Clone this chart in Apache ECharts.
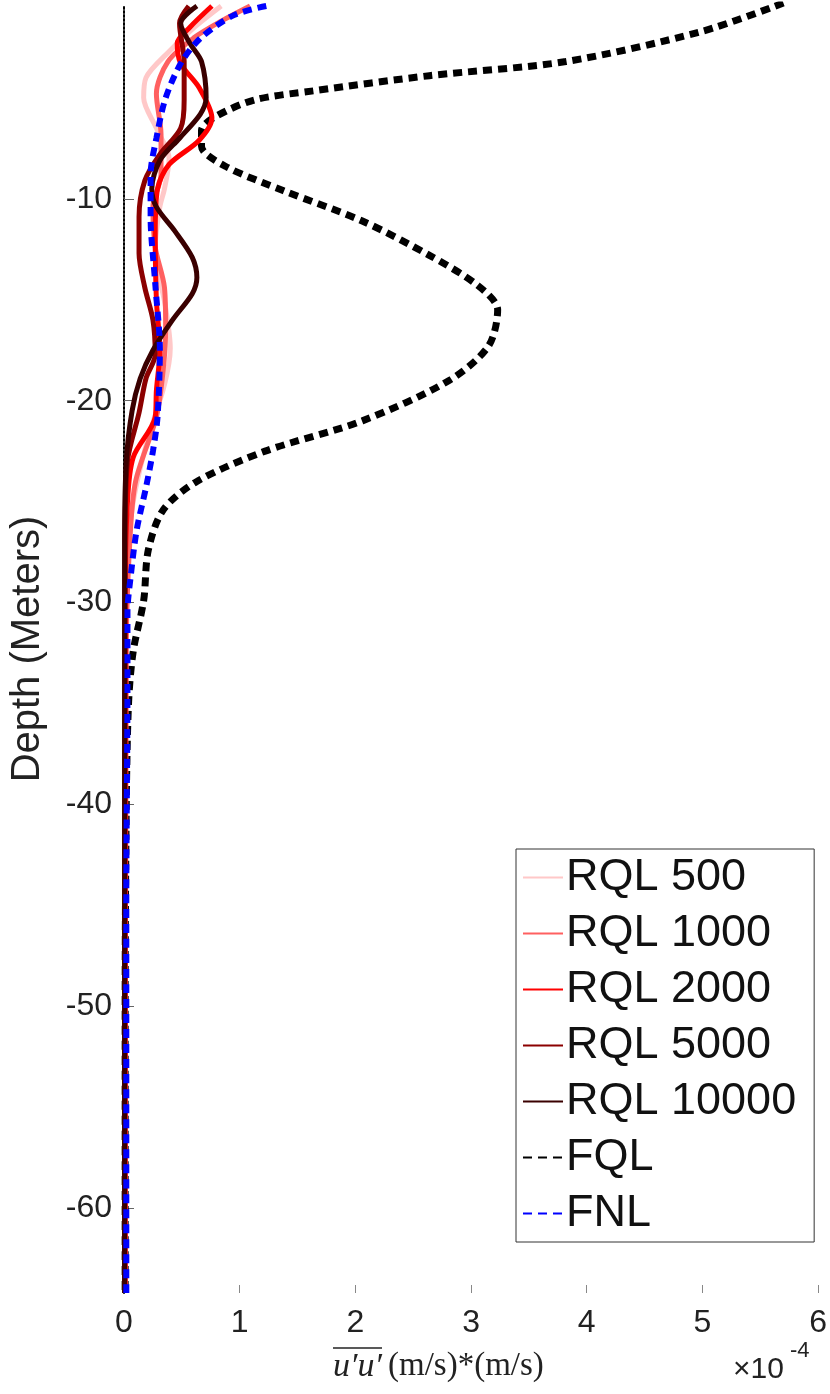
<!DOCTYPE html>
<html>
<head>
<meta charset="utf-8">
<script src="https://cdn.jsdelivr.net/npm/echarts@6/dist/echarts.min.js"></script>
<style>html,body{margin:0;padding:0;background:#fff}#main{width:830px;height:1394px}</style>
</head>
<body>
<div id="main"></div>
<script>
// values are [x (×1e-4), depth]
var rql500 = [[0.84,-0.45],[0.61,-1.5],[0.39,-2.7],[0.19,-4],[0.17,-5],[0.28,-6.5],[0.39,-8],[0.35,-9.5],[0.31,-10.4],[0.27,-12.4],[0.36,-15.4],[0.4,-17.4],[0.35,-19.2],[0.2,-22],[0.08,-25],[0.03,-28],[0.01,-35],[0.01,-64.2]];
var rql1000 = [[1.09,-0.45],[0.84,-1.2],[0.61,-2],[0.38,-3.2],[0.28,-4.8],[0.32,-6.8],[0.32,-8.8],[0.25,-10.4],[0.27,-12.4],[0.35,-14.4],[0.36,-16.4],[0.34,-18.4],[0.28,-20.8],[0.1,-24],[0.05,-27],[0.02,-32],[0.01,-64.2]];
var rql2000 = [[0.76,-0.45],[0.57,-1.5],[0.46,-2.3],[0.49,-3.3],[0.65,-4.5],[0.76,-6],[0.65,-7.1],[0.39,-8.3],[0.29,-9.5],[0.27,-11.7],[0.28,-15],[0.31,-17.5],[0.28,-19.5],[0.27,-20.8],[0.08,-22.8],[0.03,-25],[0.01,-30],[0.01,-64.2]];
var rql5000 = [[0.56,-0.45],[0.48,-1.3],[0.52,-3.2],[0.52,-5.1],[0.49,-6.5],[0.31,-7.8],[0.18,-9.1],[0.13,-10.9],[0.13,-12.7],[0.18,-14.4],[0.25,-16],[0.27,-17.7],[0.19,-18.9],[0.13,-20.6],[0.03,-23],[0.01,-27],[0.005,-64.2]];
var rql10000 = [[0.63,-0.45],[0.49,-1.3],[0.57,-2.3],[0.67,-3.2],[0.71,-5],[0.66,-5.8],[0.48,-7],[0.31,-8.1],[0.24,-9.5],[0.28,-10.4],[0.44,-11.6],[0.59,-12.9],[0.63,-13.9],[0.59,-14.7],[0.42,-16],[0.25,-17.5],[0.14,-18.9],[0.07,-20.5],[0.02,-23],[0.005,-27],[0.005,-64.2]];
var fql = [[5.7,-0.3],[5.0,-1.7],[3.82,-3.2],[2.64,-3.9],[1.64,-4.65],[1.13,-5.1],[0.8,-5.9],[0.67,-6.6],[0.67,-7.4],[0.88,-8.4],[1.38,-9.6],[2.06,-11.1],[2.64,-12.8],[3.06,-14.3],[3.23,-15.5],[3.15,-17.3],[2.81,-19],[2.06,-21],[1.22,-22.5],[0.63,-24],[0.34,-25.4],[0.21,-27.4],[0.17,-29.9],[0.08,-32.4],[0.04,-34.9],[0.02,-39.8],[0.01,-50],[0.01,-64.2]];
var fnl = [[1.23,-0.45],[0.95,-0.9],[0.67,-2],[0.5,-3.2],[0.36,-5],[0.28,-7],[0.23,-8.8],[0.23,-10.9],[0.27,-14.2],[0.31,-17.5],[0.29,-20.8],[0.25,-22.5],[0.19,-24.3],[0.11,-26.4],[0.06,-28.6],[0.03,-30.5],[0.03,-33.5],[0.02,-45],[0.02,-64.2]];
var xTicks = [0,1,2,3,4,5,6];
var yTicks = [-60,-50,-40,-30,-20,-10];

var myChart = echarts.init(document.getElementById('main'));

function ln(name, data, color, width, type) {
    return {
        name: name, type: 'line', data: data, symbol: 'none', smooth: 0.3,
        color: color,
        lineStyle: {color: color, width: width, type: type || 'solid', cap: 'butt'}
    };
}

var option = {
    animation: false,
    backgroundColor: '#fff',
    grid: {left: 105, right: 10, top: 5, bottom: 101},
    legend: {
        orient: 'vertical', left: 516, top: 849,
        itemWidth: 40, itemHeight: 8, itemGap: 11,
        padding: [6, 18, 6, 6],
        itemStyle: {opacity: 0},
        borderColor: '#333', borderWidth: 1, backgroundColor: '#fff',
        textStyle: {fontSize: 45, color: '#111', fontFamily: 'Liberation Sans', padding: [0, 0, 0, -2]},
        data: ['RQL 500','RQL 1000','RQL 2000','RQL 5000','RQL 10000','FQL','FNL']
    },
    xAxis: {
        type: 'value', min: 0, max: 6, interval: 1,
        axisLine: {show: false}, splitLine: {show: false},
        axisTick: {show: true, inside: true, length: 8, lineStyle: {color: '#888'}},
        axisLabel: {fontSize: 32, color: '#222', margin: 14, fontFamily: 'Liberation Sans'}
    },
    yAxis: {
        type: 'value', min: -64.2, max: -0.4,
        name: 'Depth (Meters)', nameLocation: 'middle', nameGap: 76,
        nameTextStyle: {fontSize: 40, color: '#222', fontFamily: 'Liberation Sans'},
        axisLine: {show: true, lineStyle: {color: '#000', type: 'dotted', width: 2}},
        splitLine: {show: false},
        axisTick: {show: true, inside: true, length: 10, customValues: yTicks, lineStyle: {color: '#666'}},
        axisLabel: {fontSize: 32, color: '#222', margin: 12, customValues: yTicks, fontFamily: 'Liberation Sans'}
    },
    graphic: [
        {type: 'text', left: 333, top: 1350, style: {text: "u′u′", font: 'italic 34px "Liberation Serif"', fill: '#222'}},
        {type: 'line', shape: {x1: 333, y1: 1348, x2: 382, y2: 1348}, style: {stroke: '#222', lineWidth: 1.5}},
        {type: 'text', left: 388, top: 1350, style: {text: '(m/s)*(m/s)', font: '33px "Liberation Serif"', fill: '#222'}},
        {type: 'text', left: 733, top: 1355, style: {text: '×10', font: '30px "Liberation Sans"', fill: '#222'}},
        {type: 'text', left: 790, top: 1340, style: {text: '-4', font: '22px "Liberation Sans"', fill: '#222'}}
    ],
    series: [
        ln('FQL', fql, '#000', 7, [9, 6]),
        ln('RQL 500', rql500, '#ffc8c8', 5),
        ln('RQL 1000', rql1000, '#ff6060', 5),
        ln('RQL 2000', rql2000, '#ff0000', 5),
        ln('RQL 5000', rql5000, '#8b0000', 5),
        ln('RQL 10000', rql10000, '#3a0000', 5),
        ln('FNL', fnl, '#0000ff', 6, [9, 6])
    ]
};
myChart.setOption(option);
</script>
</body>
</html>
